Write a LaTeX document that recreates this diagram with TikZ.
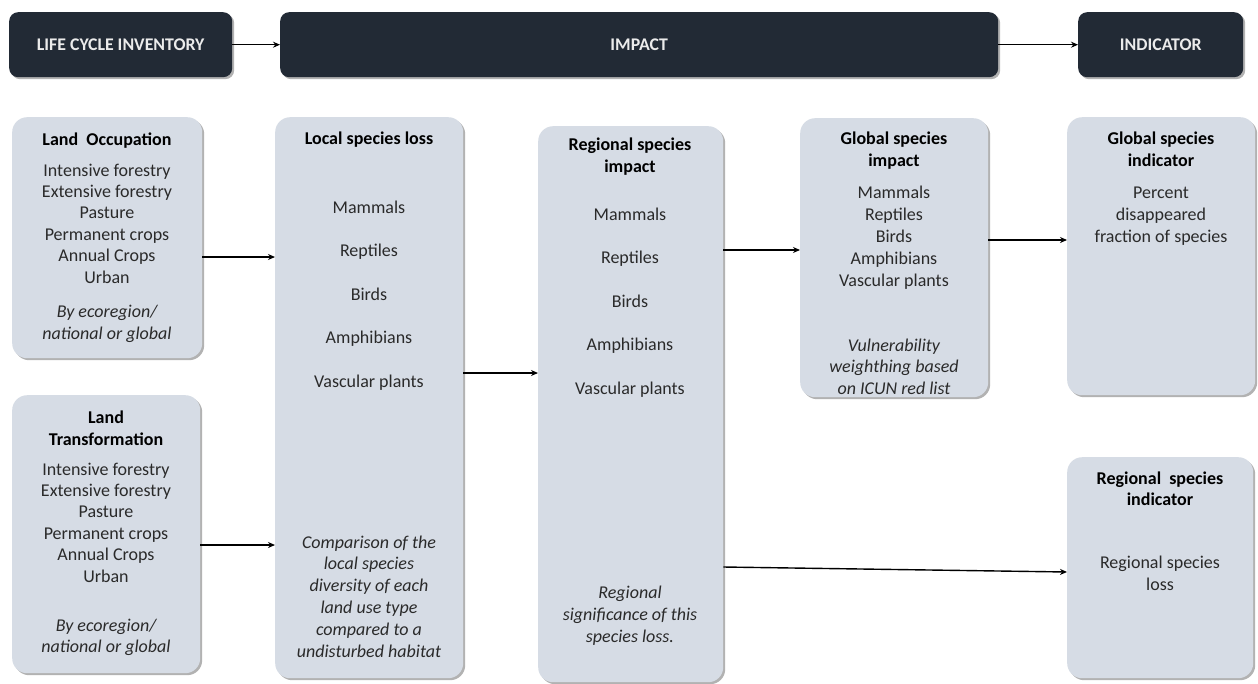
\documentclass[tikz,border=0pt]{standalone}
\usepackage{fontspec}
\setmainfont{Carlito}
\usetikzlibrary{arrows.meta,shadows}
\definecolor{hdrc}{HTML}{222A35}
\definecolor{boxc}{HTML}{D6DCE5}
\definecolor{txtc}{HTML}{2A2A2A}
\begin{document}
\begin{tikzpicture}[x=1pt,y=-1pt,
  shad/.style={drop shadow={shadow xshift=2pt,shadow yshift=-2pt,opacity=0.3,fill=black}},
  hdrbox/.style={shad, fill=hdrc, rounded corners=9pt, anchor=north west, inner sep=0pt, text=white!92!black, font=\fontsize{17.8}{21}\selectfont\bfseries},
  card/.style={shad, fill=boxc, rounded corners=15pt, anchor=north west, inner sep=0pt},
  txt/.style={anchor=base, inner sep=0pt, text=txtc, font=\fontsize{18}{21.6}\selectfont},
  ttl/.style={anchor=base, inner sep=0pt, text=black, font=\fontsize{18}{21.6}\selectfont\bfseries},
  itx/.style={anchor=base, inner sep=0pt, text=txtc, font=\fontsize{18}{21.6}\selectfont\itshape},
  arr/.style={draw=black, line width=1.4pt, -{Stealth[length=7pt,width=6pt]}}
]
\useasboundingbox (0,0) rectangle (1258,683);
\fill[white] (0,0) rectangle (1258,683);

% header bars
\node[hdrbox, minimum width=223pt, minimum height=65pt] (lci) at (9,12) {LIFE CYCLE INVENTORY};
\node[hdrbox, minimum width=718pt, minimum height=65pt] (imp) at (280,12) {IMPACT};
\node[hdrbox, minimum width=165pt, minimum height=65pt] (ind) at (1078,12) {INDICATOR};

% cards
\node[card, minimum width=190pt, minimum height=241pt] (lo) at (12,117) {};
\node[card, minimum width=188pt, minimum height=278pt] (lt) at (12,395) {};
\node[card, minimum width=188pt, minimum height=561pt] (loc) at (275,117) {};
\node[card, minimum width=185pt, minimum height=556pt] (reg) at (538,126) {};
\node[card, minimum width=188pt, minimum height=279pt] (gsi) at (800,118) {};
\node[card, minimum width=188pt, minimum height=278pt] (gind) at (1067,117) {};
\node[card, minimum width=186pt, minimum height=221pt] (rind) at (1067,457) {};

% Land Occupation
\node[ttl] (loT) at (107,145) {Land\ \ Occupation};
\foreach \t [count=\i] in {Intensive forestry,Extensive forestry,Pasture,Permanent crops,Annual Crops,Urban}
  \node[txt] (lo\i) at (107,{176+21.4*(\i-1)}) {\t};
\node[itx] (loI1) at (107,317) {By ecoregion/};
\node[itx] (loI2) at (107,339) {national or global};

% Land Transformation
\node[ttl] (ltT1) at (106,423) {Land};
\node[ttl] (ltT2) at (106,445) {Transformation};
\foreach \t [count=\i] in {Intensive forestry,Extensive forestry,Pasture,Permanent crops,Annual Crops,Urban}
  \node[txt] (lt\i) at (106,{475+21.4*(\i-1)}) {\t};
\node[itx] (ltI1) at (106,631) {By ecoregion/};
\node[itx] (ltI2) at (106,652) {national or global};

% Local species loss
\node[ttl] (locT) at (369,144) {Local species loss};
\foreach \t [count=\i] in {Mammals,Reptiles,Birds,Amphibians,Vascular plants}
  \node[txt] (loc\i) at (369,{213+43.5*(\i-1)}) {\t};
\foreach \t [count=\i] in {Comparison of the,local species,diversity of each,land use type,compared to a,undisturbed habitat}
  \node[itx] (locI\i) at (369,{548+21.8*(\i-1)}) {\t};

% Regional species impact
\node[ttl] (regT1) at (630,150) {Regional species};
\node[ttl] (regT2) at (630,172) {impact};
\foreach \t [count=\i] in {Mammals,Reptiles,Birds,Amphibians,Vascular plants}
  \node[txt] (reg\i) at (630,{220+43.5*(\i-1)}) {\t};
\foreach \t [count=\i] in {Regional,significance of this,species loss.}
  \node[itx] (regI\i) at (630,{598+22*(\i-1)}) {\t};

% Global species impact
\node[ttl] (gsiT1) at (894,144) {Global species};
\node[ttl] (gsiT2) at (894,166) {impact};
\foreach \t [count=\i] in {Mammals,Reptiles,Birds,Amphibians,Vascular plants}
  \node[txt] (gsi\i) at (894,{198+22*(\i-1)}) {\t};
\begin{scope}
  \clip[rounded corners=15pt] (gsi.north west) rectangle (gsi.south east);
  \foreach \t [count=\i] in {Vulnerability,weighthing based,on ICUN red list}
    \node[itx] (gsiI\i) at (894,{351+21.5*(\i-1)}) {\t};
\end{scope}

% Global species indicator
\node[ttl] (gindT1) at (1161,144) {Global species};
\node[ttl] (gindT2) at (1161,166) {indicator};
\foreach \t [count=\i] in {Percent,disappeared,fraction of species}
  \node[txt] (gind\i) at (1161,{198+22*(\i-1)}) {\t};

% Regional species indicator
\node[ttl] (rindT1) at (1160,484) {Regional\ \ species};
\node[ttl] (rindT2) at (1160,505) {indicator};
\node[txt] (rind1) at (1160,568) {Regional species};
\node[txt] (rind2) at (1160,590) {loss};

% connectors
\draw[arr] (lci.east) -- (imp.west);
\draw[arr] (imp.east) -- (ind.west);
\draw[arr] (lo.east |- 0,257) -- (loc.west |- 0,257);
\draw[arr] (lt.east |- 0,545) -- (loc.west |- 0,545);
\draw[arr] (loc.east |- 0,373) -- (reg.west |- 0,373);
\draw[arr] (reg.east |- 0,250) -- (gsi.west |- 0,250);
\draw[arr] (gsi.east |- 0,240) -- (gind.west |- 0,240);
\draw[arr] (reg.east |- 0,567) -- (rind.west |- 0,572);
\end{tikzpicture}
\end{document}
